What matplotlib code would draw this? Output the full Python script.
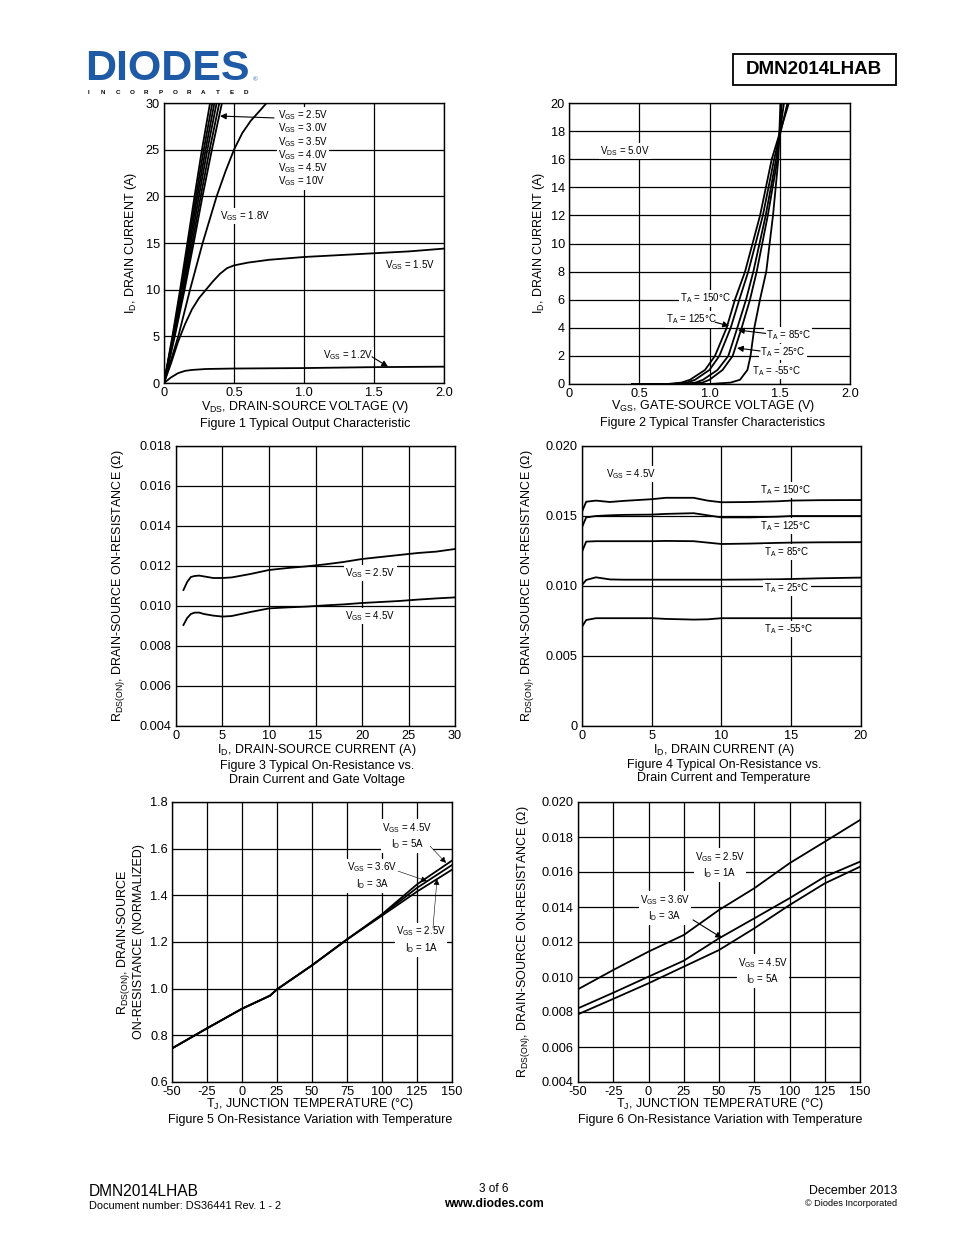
import numpy as np
import matplotlib
matplotlib.use("Agg")
import matplotlib.pyplot as plt
from matplotlib.patches import Rectangle

plt.rcParams['font.family'] = ['Liberation Sans', 'DejaVu Sans']
plt.rcParams['mathtext.default'] = 'regular'

W, H = 954, 1235

# ---- Figure 1: output characteristic (VDS vs ID) ----
f1_id = [0, 5, 10, 15, 20, 25, 30]
f1_vds_10v = [0, 0.060, 0.115, 0.167, 0.218, 0.271, 0.329]
f1_vds_45v = [0, 0.063, 0.121, 0.175, 0.228, 0.284, 0.345]
f1_vds_40v = [0, 0.066, 0.127, 0.183, 0.238, 0.297, 0.36]
f1_vds_35v = [0, 0.069, 0.133, 0.192, 0.249, 0.31, 0.376]
f1_vds_30v = [0, 0.073, 0.14, 0.202, 0.262, 0.326, 0.395]
f1_vds_25v = [0, 0.077, 0.147, 0.212, 0.275, 0.342, 0.414]
f1_vds_18v = [0, 0.102, 0.186, 0.276, 0.376, 0.44, 0.5, 0.56, 0.62, 0.68, 0.733]
f1_id_18v = [0, 5, 10, 15, 20, 22.7, 25, 26.8, 28.1, 29.1, 30]
f1_vds_15v = [0, 0.05, 0.1, 0.15, 0.2, 0.25, 0.3, 0.35, 0.4, 0.45, 0.5, 0.6, 0.75, 1.0, 1.25, 1.5, 1.75, 2.0]
f1_id_15v = [0, 2.1, 4.4, 6.3, 7.9, 9.1, 10.0, 10.9, 11.7, 12.3, 12.6, 12.9, 13.2, 13.5, 13.7, 13.9, 14.1, 14.4]
f1_vds_12v = [0, 0.05, 0.1, 0.15, 0.2, 0.3, 0.5, 1.0, 1.5, 2.0]
f1_id_12v = [0, 0.6, 1.05, 1.3, 1.4, 1.5, 1.55, 1.6, 1.7, 1.75]
f1_labels = ['2.5V', '3.0V', '3.5V', '4.0V', '4.5V', '10V']

# ---- Figure 2: transfer characteristic (VGS vs ID) ----
f2_id = [0, 0, 0.1, 0.3, 1, 2, 4, 6, 8, 12, 16, 20]
f2_vgs_150 = [0.45, 0.70, 0.80, 0.861, 0.968, 1.039, 1.122, 1.181, 1.253, 1.36, 1.443, 1.565]
f2_vgs_125 = [0.45, 0.74, 0.84, 0.897, 1.0, 1.07, 1.151, 1.212, 1.276, 1.38, 1.46, 1.555]
f2_vgs_85 = [0.45, 0.80, 0.90, 0.954, 1.057, 1.134, 1.198, 1.26, 1.312, 1.40, 1.474, 1.53]
f2_vgs_25 = [0.45, 0.85, 0.95, 1.0, 1.093, 1.165, 1.229, 1.288, 1.336, 1.415, 1.484, 1.515]
f2_vgs_m55 = [0.45, 1.0, 1.15, 1.217, 1.27, 1.292, 1.319, 1.359, 1.404, 1.452, 1.49, 1.505]

# ---- Figure 3: RDS(on) vs ID and VGS ----
f3_id = [0.8, 1.2, 1.6, 2, 2.5, 3, 4, 5, 6, 8, 10, 12, 14, 16, 18, 20, 22, 24, 26, 28, 30]
f3_r_25v = [0.0108, 0.0112, 0.01145, 0.0115, 0.01152, 0.01148, 0.0114, 0.0114, 0.01143, 0.0116,
            0.0118, 0.0119, 0.01198, 0.01208, 0.0122, 0.01235, 0.01245, 0.01255, 0.01265, 0.01272, 0.01285]
f3_r_45v = [0.00905, 0.0094, 0.0096, 0.00967, 0.00967, 0.0096, 0.00952, 0.00947, 0.0095, 0.0097,
            0.00988, 0.00993, 0.00997, 0.01003, 0.01008, 0.01015, 0.0102, 0.01025, 0.01032, 0.01038, 0.01043]

# ---- Figure 4: RDS(on) vs ID and temperature ----
f4_id = [0, 0.3, 1, 2, 3, 5, 6, 8, 9, 10, 12, 14, 15, 17, 20]
f4_r_150 = [0.01531, 0.01602, 0.0161, 0.0160, 0.01608, 0.0162, 0.0163, 0.0163, 0.0161, 0.01598, 0.0160, 0.01605, 0.0161, 0.01613, 0.01614]
f4_r_125 = [0.0142, 0.0149, 0.0150, 0.01505, 0.01508, 0.0151, 0.01515, 0.0152, 0.01505, 0.0149, 0.0149, 0.01495, 0.0150, 0.0150, 0.0150]
f4_r_85 = [0.01245, 0.01317, 0.0132, 0.0132, 0.0132, 0.0132, 0.01322, 0.0132, 0.0131, 0.0130, 0.01303, 0.01308, 0.0131, 0.01312, 0.01313]
f4_r_25 = [0.01007, 0.01043, 0.01062, 0.01047, 0.01045, 0.01045, 0.01045, 0.01045, 0.01045, 0.01045, 0.01046, 0.01048, 0.0105, 0.01055, 0.0106]
f4_r_m55 = [0.00709, 0.00757, 0.0077, 0.0077, 0.0077, 0.0077, 0.00765, 0.0076, 0.00762, 0.0077, 0.0077, 0.0077, 0.0077, 0.0077, 0.0077]

# ---- Figure 5: normalized RDS(on) vs temperature ----
f5_t = [-50, -25, 0, 20, 25, 50, 75, 100, 125, 150]
f5_r_45v = [0.744, 0.83, 0.914, 0.97, 0.997, 1.10, 1.211, 1.319, 1.447, 1.549]
f5_r_36v = [0.744, 0.83, 0.914, 0.97, 0.997, 1.10, 1.211, 1.316, 1.432, 1.530]
f5_r_25v = [0.744, 0.83, 0.914, 0.97, 0.997, 1.10, 1.211, 1.313, 1.416, 1.510]

# ---- Figure 6: RDS(on) vs temperature ----
f6_t = [-50, -25, 0, 25, 50, 75, 100, 125, 150]
f6_r_25v = [0.0093, 0.0104, 0.01145, 0.0124, 0.01383, 0.01507, 0.0165, 0.01773, 0.01897]
f6_r_36v = [0.00821, 0.0091, 0.01002, 0.01093, 0.01221, 0.01335, 0.0145, 0.01573, 0.01659]
f6_r_45v = [0.00787, 0.00875, 0.00964, 0.01059, 0.01154, 0.01278, 0.01411, 0.01535, 0.0163]


def rect(l, t, r, b):
    return [l / W, 1 - b / H, (r - l) / W, (b - t) / H]


def ftext(x, y, s, **kw):
    fig.text(x / W, 1 - y / H, s, **kw)


def style(ax, xlim, ylim, xt, yt, xfmt, yfmt):
    ax.set_xlim(xlim)
    ax.set_ylim(ylim)
    ax.set_xticks(xt)
    ax.set_yticks(yt)
    ax.set_xticklabels([xfmt(v) for v in xt])
    ax.set_yticklabels([yfmt(v) for v in yt])
    ax.grid(True, color='black', lw=0.9)
    ax.set_axisbelow(True)
    ax.tick_params(length=0, labelsize=9.2, pad=3)
    for sp in ax.spines.values():
        sp.set_linewidth(1.0)


box = dict(fc='white', ec='none', pad=1.0)
lab = dict(fontsize=7, va='center', bbox=box)
lab2 = dict(fontsize=7, va='center', ha='center', bbox=box, linespacing=1.3)
arr = dict(arrowstyle='-|>', color='black', lw=0.8, mutation_scale=9, shrinkA=0, shrinkB=0)
arr_thin = dict(arrowstyle='-|>', color='black', lw=0.4, mutation_scale=9, shrinkA=0, shrinkB=0)
LW = 1.3
FS = 9

fig = plt.figure(figsize=(W / 100, H / 100), dpi=100)

# header
ftext(85, 89.5, 'DIODES', fontsize=31, fontweight='bold', color='#1f5aa6', va='bottom')
ftext(253, 81, '®', fontsize=4.5, color='#1f5aa6', va='baseline')
for i, ch in enumerate('INCORPORATED'):
    ftext(89 + i * 14.3, 90.5, ch, fontsize=4.5, fontweight='bold', ha='center', va='top')
fig.patches.append(Rectangle((733 / W, 1 - 85 / H), 163 / W, 31 / H, transform=fig.transFigure,
                             fill=False, ec='black', lw=1.3))
ftext(814, 70, 'DMN2014LHAB', fontsize=13.5, fontweight='bold', ha='center', va='center')

# Figure 1
ax1 = fig.add_axes(rect(164, 103, 444, 383))
for v in [f1_vds_10v, f1_vds_45v, f1_vds_40v, f1_vds_35v, f1_vds_30v, f1_vds_25v]:
    ax1.plot(v, f1_id, color='black', lw=LW)
ax1.plot(f1_vds_18v, f1_id_18v, color='black', lw=LW)
ax1.plot(f1_vds_15v, f1_id_15v, color='black', lw=LW)
ax1.plot(f1_vds_12v, f1_id_12v, color='black', lw=LW)
style(ax1, (0, 2.0), (0, 30), [0, 0.5, 1.0, 1.5, 2.0], [0, 5, 10, 15, 20, 25, 30],
      lambda v: '0' if v == 0 else f'{v:.1f}', lambda v: f'{v:g}')
ax1.annotate('', xy=(0.40, 28.6), xytext=(0.786, 28.4), arrowprops=arr)
for i, s in enumerate(f1_labels):
    ax1.text(0.814, 28.7 - i * 1.42, 'V$_{GS}$ = ' + s, ha='left', **lab)
ax1.text(0.40, 17.9, 'V$_{GS}$ = 1.8V', ha='left', **lab)
ax1.text(1.58, 12.6, 'V$_{GS}$ = 1.5V', ha='left', **lab)
ax1.text(1.136, 3.0, 'V$_{GS}$ = 1.2V', ha='left', **lab)
ax1.annotate('', xy=(1.6, 1.75), xytext=(1.486, 2.8), arrowprops=arr)
ftext(131, 243, 'I$_D$, DRAIN CURRENT (A)', fontsize=FS, rotation=90, ha='center', va='center')
ftext(305, 407, 'V$_{DS}$, DRAIN-SOURCE VOLTAGE (V)', fontsize=FS, ha='center', va='center')
ftext(305, 424, 'Figure 1 Typical Output Characteristic', fontsize=FS, ha='center', va='center')

# Figure 2
ax2 = fig.add_axes(rect(569, 103, 850, 384))
for v in [f2_vgs_150, f2_vgs_125, f2_vgs_85, f2_vgs_25, f2_vgs_m55]:
    ax2.plot(v, f2_id, color='black', lw=LW)
style(ax2, (0, 2.0), (0, 20), [0, 0.5, 1.0, 1.5, 2.0], list(range(0, 21, 2)),
      lambda v: '0' if v == 0 else f'{v:.1f}', lambda v: f'{v:g}')
ax2.text(0.22, 16.6, 'V$_{DS}$ = 5.0V', ha='left', **lab)
ax2.text(0.79, 6.1, 'T$_A$ = 150°C', ha='left', **lab)
ax2.text(0.69, 4.6, 'T$_A$ = 125°C', ha='left', **lab)
ax2.annotate('', xy=(1.139, 4.13), xytext=(1.04, 4.4), arrowprops=arr)
ax2.text(1.40, 3.5, 'T$_A$ = 85°C', ha='left', **lab)
ax2.annotate('', xy=(1.203, 3.84), xytext=(1.40, 3.6), arrowprops=arr)
ax2.text(1.36, 2.28, 'T$_A$ = 25°C', ha='left', **lab)
ax2.annotate('', xy=(1.196, 2.56), xytext=(1.36, 2.35), arrowprops=arr)
ax2.text(1.30, 0.93, 'T$_A$ = -55°C', ha='left', **lab)
ftext(539, 243, 'I$_D$, DRAIN CURRENT (A)', fontsize=FS, rotation=90, ha='center', va='center')
ftext(713, 406, 'V$_{GS}$, GATE-SOURCE VOLTAGE (V)', fontsize=FS, ha='center', va='center')
ftext(713, 423, 'Figure 2 Typical Transfer Characteristics', fontsize=FS, ha='center', va='center')

# Figure 3
ax3 = fig.add_axes(rect(176, 446, 455, 726))
ax3.plot(f3_id, f3_r_25v, color='black', lw=LW)
ax3.plot(f3_id, f3_r_45v, color='black', lw=LW)
style(ax3, (0, 30), (0.004, 0.018), list(range(0, 31, 5)), list(np.arange(0.004, 0.0181, 0.002)),
      lambda v: f'{v:g}', lambda v: f'{v:.3f}')
ax3.text(18.2, 0.01165, 'V$_{GS}$ = 2.5V', ha='left', **lab)
ax3.text(18.2, 0.0095, 'V$_{GS}$ = 4.5V', ha='left', **lab)
ftext(119, 586, 'R$_{DS(ON)}$, DRAIN-SOURCE ON-RESISTANCE (Ω)', fontsize=FS, rotation=90,
      ha='center', va='center')
ftext(317, 750, 'I$_D$, DRAIN-SOURCE CURRENT (A)', fontsize=FS, ha='center', va='center')
ftext(317, 766, 'Figure 3 Typical On-Resistance vs.', fontsize=FS, ha='center', va='center')
ftext(317, 780, 'Drain Current and Gate Voltage', fontsize=FS, ha='center', va='center')

# Figure 4
ax4 = fig.add_axes(rect(582, 446, 861, 726))
for r in [f4_r_150, f4_r_125, f4_r_85, f4_r_25, f4_r_m55]:
    ax4.plot(f4_id, r, color='black', lw=LW)
style(ax4, (0, 20), (0, 0.020), [0, 5, 10, 15, 20], [0, 0.005, 0.010, 0.015, 0.020],
      lambda v: f'{v:g}', lambda v: '0' if v == 0 else f'{v:.3f}')
ax4.text(1.72, 0.0180, 'V$_{GS}$ = 4.5V', ha='left', **lab)
ax4.text(12.76, 0.01686, 'T$_A$ = 150°C', ha='left', **lab)
ax4.text(12.76, 0.01429, 'T$_A$ = 125°C', ha='left', **lab)
ax4.text(13.05, 0.01243, 'T$_A$ = 85°C', ha='left', **lab)
ax4.text(13.05, 0.00986, 'T$_A$ = 25°C', ha='left', **lab)
ax4.text(13.05, 0.00693, 'T$_A$ = -55°C', ha='left', **lab)
ftext(527, 586, 'R$_{DS(ON)}$, DRAIN-SOURCE ON-RESISTANCE (Ω)', fontsize=FS, rotation=90,
      ha='center', va='center')
ftext(724, 749.5, 'I$_D$, DRAIN CURRENT (A)', fontsize=FS, ha='center', va='center')
ftext(724, 765, 'Figure 4 Typical On-Resistance vs.', fontsize=FS, ha='center', va='center')
ftext(724, 778, 'Drain Current and Temperature', fontsize=FS, ha='center', va='center')

# Figure 5
ax5 = fig.add_axes(rect(172, 802, 452, 1082))
for r in [f5_r_45v, f5_r_36v, f5_r_25v]:
    ax5.plot(f5_t, r, color='black', lw=LW)
style(ax5, (-50, 150), (0.6, 1.8), list(range(-50, 151, 25)), list(np.arange(0.6, 1.81, 0.2)),
      lambda v: f'{v:g}', lambda v: f'{v:.1f}')
ax5.text(117.9, 1.654, 'V$_{GS}$ = 4.5V\nI$_D$ = 5A', **lab2)
ax5.annotate('', xy=(145.7, 1.539), xytext=(134.3, 1.611), arrowprops=arr_thin)
ax5.text(92.9, 1.483, 'V$_{GS}$ = 3.6V\nI$_D$ = 3A', **lab2)
ax5.annotate('', xy=(132.1, 1.461), xytext=(111.4, 1.504), arrowprops=arr_thin)
ax5.text(127.9, 1.209, 'V$_{GS}$ = 2.5V\nI$_D$ = 1A', **lab2)
ax5.annotate('', xy=(139.3, 1.47), xytext=(136.4, 1.26), arrowprops=arr_thin)
ftext(130, 942, 'R$_{DS(ON)}$, DRAIN-SOURCE\nON-RESISTANCE (NORMALIZED)', fontsize=FS, rotation=90,
      ha='center', va='center', linespacing=1.1)
ftext(310, 1104, 'T$_J$, JUNCTION TEMPERATURE (°C)', fontsize=FS, ha='center', va='center')
ftext(310, 1120, 'Figure 5 On-Resistance Variation with Temperature', fontsize=FS, ha='center', va='center')

# Figure 6
ax6 = fig.add_axes(rect(578, 802, 860, 1082))
for r in [f6_r_25v, f6_r_36v, f6_r_45v]:
    ax6.plot(f6_t, r, color='black', lw=LW)
style(ax6, (-50, 150), (0.004, 0.020), list(range(-50, 151, 25)), list(np.arange(0.004, 0.0201, 0.002)),
      lambda v: f'{v:g}', lambda v: f'{v:.3f}')
ax6.text(50.7, 0.0164, 'V$_{GS}$ = 2.5V\nI$_D$ = 1A', **lab2)
ax6.text(11.7, 0.01394, 'V$_{GS}$ = 3.6V\nI$_D$ = 3A', **lab2)
ax6.annotate('', xy=(52.1, 0.01223), xytext=(31.6, 0.01326), arrowprops=arr)
ax6.text(81.2, 0.01034, 'V$_{GS}$ = 4.5V\nI$_D$ = 5A', **lab2)
ftext(524, 942, 'R$_{DS(ON)}$, DRAIN-SOURCE ON-RESISTANCE (Ω)', fontsize=FS, rotation=90,
      ha='center', va='center')
ftext(720, 1104, 'T$_J$, JUNCTION TEMPERATURE (°C)', fontsize=FS, ha='center', va='center')
ftext(720, 1120, 'Figure 6 On-Resistance Variation with Temperature', fontsize=FS, ha='center', va='center')

# footer
ftext(89, 1191, 'DMN2014LHAB', fontsize=11.2, va='center')
ftext(89, 1206, 'Document number: DS36441 Rev. 1 - 2', fontsize=7.9, va='center')
ftext(494, 1189, '3 of 6', fontsize=8.5, ha='center', va='center')
ftext(494, 1204, 'www.diodes.com', fontsize=8.8, fontweight='bold', ha='center', va='center')
ftext(897, 1191, 'December 2013', fontsize=8.9, ha='right', va='center')
ftext(897, 1204, '© Diodes Incorporated', fontsize=6.6, ha='right', va='center')

fig.savefig('out.png', dpi=100)
